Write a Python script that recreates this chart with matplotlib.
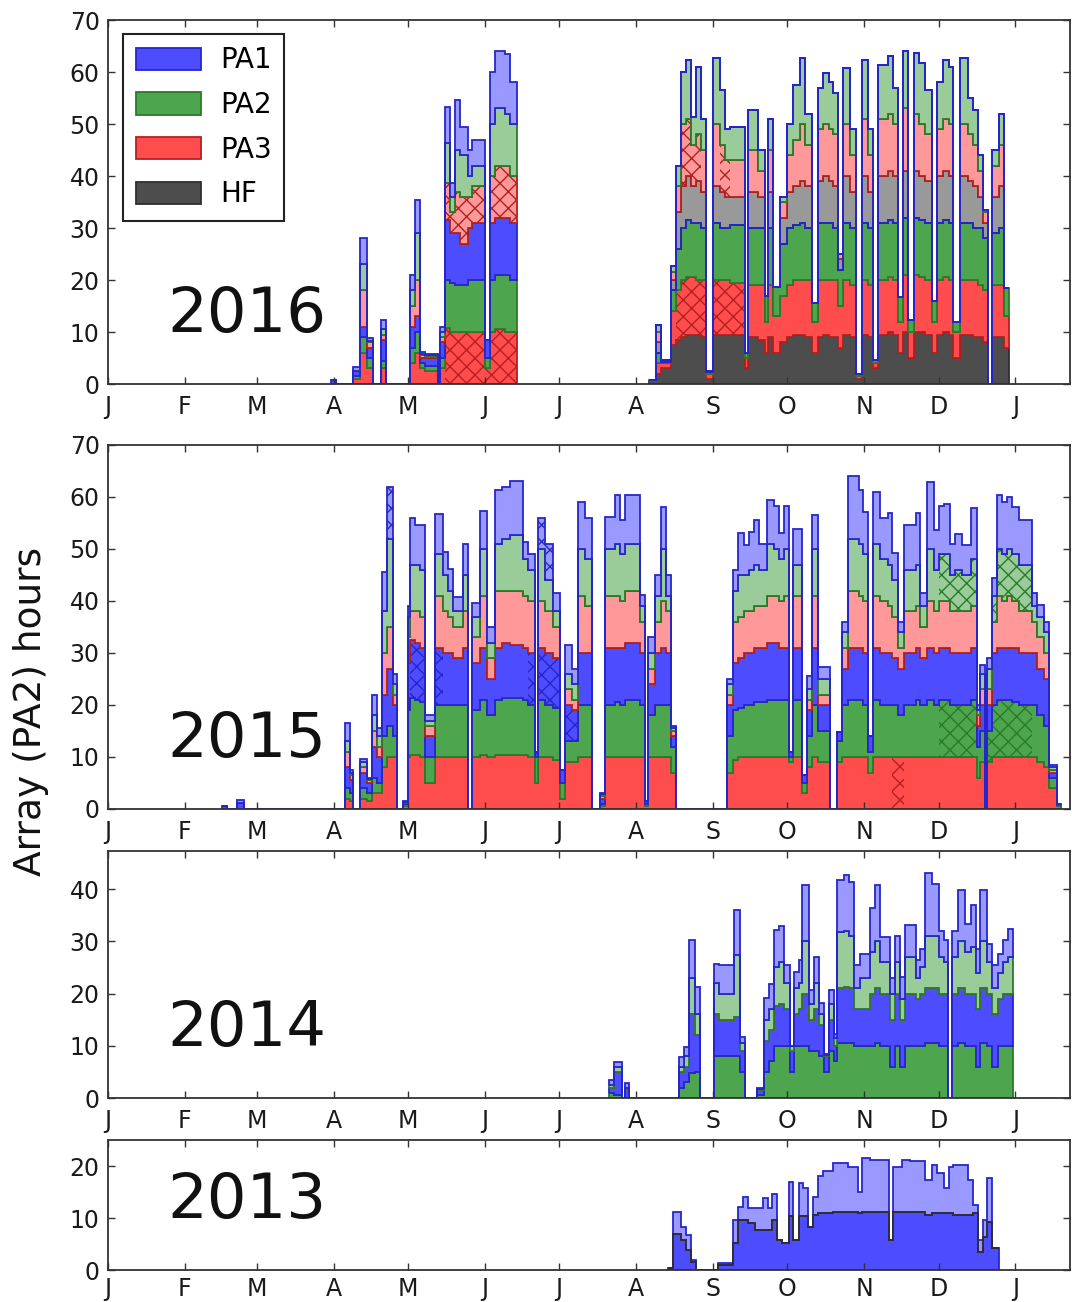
#!/usr/bin/env python3
"""Daily array observing hours, stacked per array, one panel per season (2013-2016)."""
import numpy as np
import matplotlib
matplotlib.use("Agg")
import matplotlib.pyplot as plt
from matplotlib.patches import Patch

# ------------------------------------------------------------------ style ----
ARRAYS = ["HF", "PA3", "PA2", "PA1"]          # stacking order, bottom first
FILL_N = {"HF": "#4d4d4d", "PA3": "#ff4d4d", "PA2": "#4da64d", "PA1": "#4d4dff"}
FILL_D = {"HF": "#999999", "PA3": "#ff9999", "PA2": "#99cc99", "PA1": "#9999ff"}
EDGE = {"HF": "#2e2e2e", "PA3": "#b32020", "PA2": "#2a7a2a", "PA1": "#2626c8"}

MONTH_STARTS = [0, 31, 60, 91, 121, 152, 182, 213, 244, 274, 305, 335, 366]
MONTH_LABELS = ["J", "F", "M", "A", "M", "J", "J", "A", "S", "O", "N", "D", "J"]

# ------------------------------------------------------------------- data ----
# Stack tops (hours), per bin of day-of-year.
# Suffix n = lower (solid) stack, d = upper (light) stack.

# 2016, April-June (no HF yet)
EDGES_2016A = [90, 92, 99, 101.7, 104.5, 107, 110, 112, 122, 124, 126, 128, 133,
               134, 136, 138, 140, 142, 145, 147, 152, 154, 156, 160, 162, 165]
PA3N_2016A = [0, 0, 1, 6, 3, 0, 3, 0, 4, 6, 3, 2.5, 0, 3, 10.7, 10, 10, 10, 10,
              10, 3, 10, 10.5, 10, 10]
PA2N_2016A = [0, 0, 1.5, 9, 5, 0, 4.5, 0, 7, 10, 4, 3.5, 0, 5, 20, 19.5, 19, 19,
              20, 20, 5, 20, 21, 21, 20]
PA1N_2016A = [0.7, 0, 2.5, 11, 7, 0, 8.5, 0, 11, 13, 5, 5, 0, 8, 31.5, 29, 29,
              27, 30, 31, 8.5, 31, 32, 32, 31]
PA3D_2016A = [0.7, 0, 2.5, 18, 8, 0, 9.5, 0, 15, 20, 5.5, 5.3, 0, 9, 38.6, 33,
              37, 36, 36, 38, 8.5, 40, 42, 42, 40]
PA2D_2016A = [0.7, 0, 2.5, 23, 8.3, 0, 10.5, 0, 18, 29, 5.8, 5.5, 0, 10, 46.3,
              36, 45, 44, 40, 42, 8.5, 50, 53, 52, 50]
PA1D_2016A = [0.7, 0, 3.3, 28, 8.8, 0, 12.3, 0, 21, 35.4, 6.2, 5.8, 0, 11, 53.3,
              38.6, 54.6, 49.5, 45, 47, 8.5, 60, 64, 63.5, 58]

# 2016, August-December (no PA1)
EDGES_2016B = [218, 221, 223, 227, 229, 231, 233, 235, 237, 239, 241, 244, 247,
               249, 251, 257, 258.3, 262.3, 265.1, 266.3, 268.4, 271.2, 274,
               276.4, 279.3, 281.3, 284.1, 286.5, 288.5, 290.6, 292.6, 294.6,
               296.6, 299.4, 301.5, 304.3, 306.7, 308.7, 310.7, 314.4, 316.8,
               318.8, 320.8, 322.8, 324.9, 326.9, 329.7, 332.5, 334.5, 336.6,
               339, 341, 343.8, 346.7, 348.7, 350.7, 353.1, 355.1, 356.7,
               359.2, 361.2, 363.2]
HFN_2016B = [0.5, 2, 3, 7.5, 8.5, 9, 9.5, 9.5, 9.5, 9, 1, 9.5, 9.5, 9.5, 9.5, 3,
             9, 8.5, 6, 9, 6, 8, 9, 9.5, 9.5, 9, 6, 9, 9.5, 9, 9, 7, 9.5, 9, 1,
             9.5, 9, 3, 9.5, 10, 9.5, 6, 10, 5, 10, 10, 9.5, 6, 9.5, 10, 9.5, 5,
             9.5, 9.5, 9, 9, 8, 0, 9, 9, 7]
PA3N_2016B = [0.6, 4, 4, 14, 18, 20, 20.5, 20.5, 20, 20, 2, 20, 20, 20, 19.5, 5,
              19, 19, 12, 19, 13, 17, 19, 20, 20, 20, 12, 20, 20, 20, 20, 15, 20,
              19, 1.5, 20, 19, 4, 20, 20.5, 20, 12, 21, 10, 21, 20.5, 20, 12, 20,
              20.5, 20, 10, 20, 20, 20, 19, 18, 0, 19, 19, 13]
PA2N_2016B = [0.7, 6, 4.3, 18, 26, 30, 31.5, 31, 31, 30, 2.3, 31, 30, 30, 30.5,
              6, 30, 30, 17, 30, 18.7, 27, 30, 30.5, 31, 30, 15.6, 31, 31, 31,
              30, 22, 31, 30, 2, 31, 30, 4.6, 31, 31.5, 31, 16.7, 32, 12.3, 32,
              31.5, 31, 16, 31, 31.5, 31, 12, 31, 31, 30, 30, 28, 0, 29, 30, 18.5]
HFD_2016B = [0.7, 8, 4.4, 20, 33, 38, 40, 38, 39, 37, 2.4, 38, 37, 36, 36, 6, 37,
             36, 17, 37, 18.7, 32, 37, 38, 39, 38, 15.6, 39, 40, 39, 38, 24, 40,
             37, 2, 40, 37, 4.6, 40, 41, 40, 16.7, 41, 12.3, 41, 40, 39, 16, 40,
             41, 40, 12, 40, 39, 38, 36, 31, 0, 36, 38, 18.5]
PA3D_2016B = [0.7, 10, 4.5, 21.5, 38, 50, 51, 46, 48, 45, 2.5, 50, 46, 43, 43, 6,
              45, 41, 17, 45, 18.7, 35, 44, 47, 50, 46, 15.6, 49, 50, 49, 48, 25,
              50, 44, 2, 51, 44, 4.6, 51, 52, 50, 16.7, 53, 12.3, 52, 50, 48, 16,
              49, 51, 50, 12, 50, 48, 46, 41, 33, 0, 42, 46, 18.5]
PA2D_2016B = [0.8, 11.3, 4.6, 22.6, 42, 60, 62.3, 51.4, 61, 51, 2.5, 62.6, 56.5,
              49, 49.5, 6, 52.7, 45, 17, 51, 18.7, 36, 50, 57.5, 62.7, 52, 15.6,
              57, 59.8, 58, 56, 25, 60.8, 49, 2, 62.3, 49, 4.6, 61.3, 63, 57,
              16.7, 64, 12.3, 63.6, 61.7, 56.5, 16, 58, 62.3, 61, 12, 62.7, 55,
              52.7, 44, 33.5, 0, 45, 52, 18.5]

# 2015 (no HF)
EDGES_2015 = [46, 48, 52, 55, 95.5, 97.5, 99, 101.7, 104.5, 106.5, 108.5, 110.6,
              112.6, 115, 116.6, 119, 121, 122, 124, 126, 128, 132, 135, 137,
              139, 143, 145, 147, 150, 153, 156, 159, 162, 167.5, 169.5, 172.3,
              173.5, 176.4, 179.6, 182.4, 184.4, 187.2, 189.7, 192.5, 195.3,
              198.5, 200.6, 204.6, 206.6, 208.6, 214.7, 216.7, 217.9, 220.7,
              223, 225, 227, 229, 249.8, 252.2, 254.2, 256.4, 258.4, 260.4,
              262.4, 265.8, 268.5, 270.5, 272.5, 274.5, 276.4, 280, 282, 284,
              286.5, 291.3, 294.2, 296.2, 298.6, 302.7, 304.7, 306.7, 308.7,
              311.5, 314.4, 316.4, 318.8, 320.9, 325.7, 327.7, 330.4, 333.1,
              335.1, 337.1, 339.8, 341.8, 344.5, 347.9, 350.6, 351.9, 353.9,
              354.6, 356.6, 358.6, 360.6, 362.6, 364.7, 367.4, 372.8, 374.8,
              377.5, 379.5, 382.8, 384.2]
PA3N_2015 = [0, 0, 0, 0, 2, 1.5, 0, 2, 1.5, 3,
             3, 8, 10, 10, 0, 0.5, 10, 10.4, 10.4, 10,
             5, 10, 10, 10, 10, 10, 0, 10, 10.4, 10,
             10.4, 10.4, 10.4, 10.4, 10, 5, 10, 10, 9.5, 2,
             9, 9, 10, 10, 0, 0.5, 10, 10, 10, 10,
             10, 0.5, 10, 10, 10, 10, 7, 0, 7, 9.5,
             10, 10, 10, 10, 10, 10, 10, 10, 10, 9,
             10, 3, 8, 10, 9, 0, 9, 10, 10, 10,
             10, 7, 10, 10, 10, 10, 10, 10, 10, 10,
             10, 10, 10, 10, 10, 10, 10, 10, 6, 9,
             0, 9, 10, 10, 10, 10, 10, 10, 10, 9,
             8, 4, 0.5]
PA2N_2015 = [0, 0, 0, 0, 4, 3, 0, 4, 3, 6,
             5, 14, 16, 14, 0, 1, 19, 21.3, 21, 20.5,
             10, 20, 20, 20, 20, 20, 0, 19, 21, 18,
             21, 21.3, 21.3, 21, 20, 10, 21, 20, 19.5, 5,
             13, 13, 20, 20, 0, 1, 20, 20.5, 20, 21,
             20, 1, 18, 20, 20, 20, 12, 0, 14, 19,
             19.5, 20, 20, 20.5, 20.5, 21, 21, 21, 21, 10,
             21, 5, 14, 20, 15, 0, 13, 20, 21, 21,
             20, 11, 21, 20, 20, 20, 18, 20, 21, 20,
             21, 20, 21, 21, 20, 20, 20, 21, 12, 15,
             0, 15, 20, 21, 21, 21, 20.5, 20, 20, 18,
             16, 6, 0.7]
PA1N_2015 = [0.5, 0, 1.2, 0, 8, 5.5, 0, 7, 5, 12,
             10, 22, 27, 20, 0, 1.2, 28, 32.5, 32, 31,
             14, 31, 30, 30, 29, 31, 0, 28, 31, 25,
             31, 32, 31.5, 31, 30, 11, 31, 30, 29, 7.5,
             20, 19, 30, 30, 0, 2, 31, 31, 31, 32,
             30, 1.5, 24, 30, 31, 30, 14, 0, 20, 28,
             29, 30, 30, 31, 31, 32, 32, 31, 31, 11,
             31, 6.5, 19, 31, 20, 0, 14.9, 27, 31, 31,
             30, 14, 31, 30, 30, 29, 27, 30, 31, 29,
             31, 30, 31, 31, 30, 30, 30, 31, 16, 20,
             0, 20, 30, 31, 31, 31, 31, 30, 30, 27,
             25, 7, 0.8]
PA3D_2015 = [0.5, 0, 1.2, 0, 11, 6.5, 0, 8, 5.5, 15,
             12, 30, 35, 22, 0, 1.3, 33, 38, 38, 37,
             16, 41, 38, 37, 35, 38, 0, 33, 41, 29,
             42, 42, 42, 41, 40, 11, 40, 38, 35, 7.5,
             23, 21, 41, 39, 0, 2.5, 41, 41, 40, 42,
             36, 1.5, 27, 36, 40, 38, 15, 0, 22, 36,
             37, 38, 38, 39, 39, 41, 41, 40, 41, 11,
             41, 6.5, 21, 41, 22, 0, 14.9, 31, 42, 41,
             40, 14, 41, 40, 39, 37, 31, 38, 39, 35,
             40, 38, 40, 40, 38, 38, 38, 39, 18, 23,
             0, 23, 36, 41, 40, 41, 40, 38, 36, 33,
             30, 7.5, 0.9]
PA2D_2015 = [0.5, 0, 1.2, 0, 13, 7, 0, 9, 5.7, 18,
             14, 38, 52, 24, 0, 1.4, 37, 47, 47, 46,
             17, 49, 45, 42, 38, 45, 0, 37, 50, 32,
             51, 52, 52.7, 48, 46, 11, 50, 44, 38, 7.5,
             26, 24, 50, 48, 0, 2.8, 50, 51, 49, 51,
             39, 1.5, 30, 41, 50, 41, 15.5, 0, 24, 42,
             45, 45, 46, 47, 46, 51, 50, 48, 50, 11,
             47, 6.5, 23, 50, 25, 0, 14.9, 34, 52, 51,
             49, 14, 51, 48, 47, 44, 34, 46, 47, 39,
             50, 46, 49, 49, 45, 46, 45, 48, 19, 26,
             0, 27, 41, 50, 49, 50, 49, 47, 39, 37,
             34, 8, 1]
PA1D_2015 = [0.5, 0, 1.8, 0, 16.5, 7.5, 0, 9.7, 5.9, 21.9,
             15.5, 45.6, 62, 26, 0, 1.5, 39, 56, 54.6, 54.6,
             18, 56.7, 49.4, 46.2, 40.7, 51, 0, 39.6, 57.3, 35,
             61.3, 62, 63, 51.4, 49, 11, 55.9, 51, 41.5, 7.5,
             31.5, 27, 59, 56, 0, 3, 56.2, 60.4, 55.5, 60.4,
             41.2, 1.5, 33, 45, 58, 45, 16, 0, 25, 46,
             53, 50.7, 53.3, 55.5, 51, 59.5, 58.3, 53, 58.3, 11,
             53.8, 6.5, 25.6, 56.5, 27.4, 0, 14.9, 36, 64, 61.3,
             57.2, 14, 60.9, 55.9, 57, 49.2, 36, 54.6, 57, 41.5,
             62.8, 53.6, 58.3, 58.6, 50.9, 52.8, 50.7, 57.9, 20, 27.7,
             0, 29, 44.4, 60.4, 59, 60, 58, 55.5, 41.5, 39.2,
             36, 8.5, 1]

# 2014 (PA2 and PA1 only)
EDGES_2014 = [201.9, 203.9, 207.4, 208.6, 210, 230.2, 232.2, 234.2, 236.9,
              238.9, 244.3, 246.3, 252.3, 255, 257, 261.8, 264.4, 266.5, 268.5,
              270.5, 272.5, 275.2, 276.6, 278.6, 280, 282.7, 284.7, 286.8,
              288.8, 290.8, 292.8, 294.2, 297, 299, 300.8, 303.5, 307.5, 309.5,
              311.5, 315.5, 317.6, 319.6, 321.6, 325.7, 327.7, 329.7, 332.5,
              335, 337, 338.6, 340.6, 343, 345.8, 347.9, 349.9, 351.9, 354.7,
              356.7, 358.8, 360.8, 362.8, 365.2]
PA2N_2014 = [1, 0.5, 0, 0, 0, 2, 3, 4.8, 5, 0,
             8, 8, 8, 5, 0, 0.5, 5, 7, 10, 10,
             10, 5, 10, 10, 10, 9, 9, 8, 5, 9,
             7, 10.5, 10.5, 10.5, 10, 10, 10, 10.5, 10, 6,
             10, 6, 10, 10, 10, 10.5, 10.5, 10, 10, 0,
             10, 10.5, 10, 10, 6, 10.5, 10, 6, 10, 10,
             10]
PA1N_2014 = [2, 5, 0, 1.5, 0, 5, 6, 16, 12, 0,
             16, 15, 15.6, 9, 0, 1.5, 11, 13, 17.6, 18,
             17, 9, 16, 17, 20, 15, 17, 14, 8, 15,
             10, 21, 21.3, 21, 17, 17, 20, 21, 20, 15,
             20, 15, 20, 19, 20, 21, 21, 20, 20, 0,
             20, 21, 20, 20, 17, 21, 20, 16, 19, 20,
             20]
PA2D_2014 = [2.5, 6, 0, 2, 0, 6, 8, 23, 16, 0,
             22, 20, 27.3, 10.5, 0, 1.8, 15, 17, 25, 26,
             22, 10, 21, 22, 30, 18, 22, 16, 8.3, 18,
             11.5, 31.8, 32, 31, 21, 23, 28, 30, 26, 20,
             26, 19, 27, 23, 25, 31, 31, 27, 26, 0,
             27, 30, 28, 29, 24, 30, 26, 21, 24, 26,
             27]
PA1D_2014 = [3.4, 6.9, 0, 2.8, 0, 7.9, 9.8, 30.2, 21.3, 0,
             25.7, 25.4, 36, 11.6, 0, 2, 19.2, 21.8, 32.1, 33,
             25.4, 10, 24.2, 26.4, 40.8, 20.6, 27, 18.1, 8.5, 20.6,
             12.3, 41.7, 42.7, 41.4, 25.4, 27.5, 36.3, 40.8, 30.9, 23,
             31, 23.2, 33.2, 26.4, 28.6, 43, 41, 32, 30.2, 0,
             32, 39.9, 33.4, 36.9, 28.6, 39.9, 29.5, 25.4, 27.6, 30.2,
             32.4]

# 2013 (PA1 only)
EDGES_2013 = [226, 228, 231, 233, 235, 237, 246, 252, 254, 256, 258, 261, 264,
              266, 268, 270, 272, 274.5, 276.4, 278.5, 280.5, 282.5, 284.5,
              286.5, 288.5, 292.6, 298.6, 302.3, 304.3, 307.5, 314.8, 316.8,
              320.4, 323.6, 329.7, 332.5, 334.5, 337, 339, 341, 347, 349, 351,
              353, 354.5, 356.5, 359.2]
PA1N_2013 = [0.3, 7, 5.8, 3.8, 1.6, 0, 1, 5.2, 9.6, 9.6, 9, 7.7, 7.7, 7.7, 9.6,
             5.8, 5.2, 10.3, 5.8, 10.3, 10.3, 8.3, 10.6, 10.9, 11, 11.2, 11.2,
             11, 11.2, 11.2, 5.8, 11.2, 11.2, 11.2, 10.5, 11, 11, 11, 11, 10.6,
             10.6, 11, 3.5, 6.3, 9.3, 4.2]
PA1D_2013 = [0.3, 11.2, 8.3, 6.7, 1.9, 0, 1.3, 9.6, 12.2, 14.1, 11.9, 11.9, 13.8,
             11.9, 14.7, 5.8, 5.2, 17, 5.8, 16.7, 15.7, 8.3, 14.1, 18, 19, 20.6,
             19.9, 15, 21.5, 21.2, 5.8, 19.9, 21.2, 20.9, 17.3, 20.2, 18.6, 15.7,
             19.9, 20.2, 17.3, 12.5, 5.8, 9.6, 17.6, 4.2]

# hatched (flagged) stretches: (layer, first day, last day)
HATCH_2016 = [("PA3n", 136, 165), ("PA3d", 136, 165), ("PA3n", 229, 241),
              ("PA3n", 244, 257), ("PA3d", 231, 239), ("PA3d", 247, 253)]
HATCH_2015 = [("PA1d", 112.6, 115), ("PA1n", 122, 128), ("PA1n", 132, 135),
              ("PA1n", 169.5, 182.4), ("PA1d", 173.5, 179.6), ("PA1n", 184.4, 189.7),
              ("PA3n", 316.4, 320.9), ("PA2n", 335.1, 350.6), ("PA2n", 354.6, 372.8),
              ("PA2d", 335.1, 350.6), ("PA2d", 356.6, 372.8)]


def draw_stack(ax, edges, levels, hatched=(), outline_last=()):
    edges = np.asarray(edges, float)
    mids = 0.5 * (edges[:-1] + edges[1:])
    base = np.zeros(len(edges) - 1)
    tops = {}
    for part, fills in (("n", FILL_N), ("d", FILL_D)):
        for name in ARRAYS:
            key = name + part
            top = np.asarray(levels.get(key, base), float)
            tops[key] = (name, top)
            ax.stairs(top, edges, baseline=base, fill=True, facecolor=fills[name],
                      edgecolor=EDGE[name], lw=1.3)
            for hkey, lo, hi in hatched:
                if hkey == key:
                    m = (mids > lo) & (mids < hi)
                    ax.stairs(np.where(m, top, base), edges, baseline=base, fill=True,
                              facecolor="none", edgecolor=EDGE[name], lw=0, hatch="xx")
            base = top
    # a few boundary lines sit on top in the original rendering
    for key in outline_last:
        name, top = tops[key]
        ax.stairs(top, edges, baseline=None, fill=False, color=EDGE[name], lw=1.3)


def style(ax, ymax, yticks, year, xpad=8):
    ax.set_xlim(0, 388)
    ax.set_ylim(0, ymax)
    ax.set_xticks(MONTH_STARTS)
    ax.set_xticklabels(MONTH_LABELS)
    ax.set_yticks(yticks)
    ax.tick_params(direction="in", top=True, right=True, length=5, width=1,
                   labelsize=17, color="#333333", labelcolor="#1a1a1a")
    ax.tick_params(axis="x", pad=xpad)
    ax.tick_params(axis="y", pad=6)
    for sp in ax.spines.values():
        sp.set_linewidth(1.3)
        sp.set_color("#333333")
    ax.text(24, 10, year, fontsize=45, ha="left", va="baseline", color="#111111")


def build():
    fig = plt.figure(figsize=(10.72, 13.02), dpi=100)
    left, width = 108 / 1072, 962 / 1072
    H = 1302.0

    def axes_at(top_px, bottom_px):
        return fig.add_axes([left, 1 - bottom_px / H, width, (bottom_px - top_px) / H])

    ax16 = axes_at(20, 384)
    ax15 = axes_at(445, 809)
    ax14 = axes_at(851, 1098)
    ax13 = axes_at(1140, 1270)

    draw_stack(ax16, EDGES_2016A,
               {"PA3n": PA3N_2016A, "PA2n": PA2N_2016A, "PA1n": PA1N_2016A,
                "PA3d": PA3D_2016A, "PA2d": PA2D_2016A, "PA1d": PA1D_2016A},
               HATCH_2016)
    draw_stack(ax16, EDGES_2016B,
               {"HFn": HFN_2016B, "PA3n": PA3N_2016B, "PA2n": PA2N_2016B,
                "HFd": HFD_2016B, "PA3d": PA3D_2016B, "PA2d": PA2D_2016B},
               HATCH_2016, outline_last=("PA1n",))
    draw_stack(ax15, EDGES_2015,
               {"PA3n": PA3N_2015, "PA2n": PA2N_2015, "PA1n": PA1N_2015,
                "PA3d": PA3D_2015, "PA2d": PA2D_2015, "PA1d": PA1D_2015},
               HATCH_2015)
    draw_stack(ax14, EDGES_2014,
               {"PA2n": PA2N_2014, "PA1n": PA1N_2014,
                "PA2d": PA2D_2014, "PA1d": PA1D_2014})
    draw_stack(ax13, EDGES_2013, {"PA1n": PA1N_2013, "PA1d": PA1D_2013},
               outline_last=("HFd",))

    style(ax16, 70, range(0, 71, 10), "2016")
    style(ax15, 70, range(0, 71, 10), "2015")
    style(ax14, 47.3, range(0, 41, 10), "2014")
    style(ax13, 25, range(0, 21, 10), "2013", xpad=5)

    handles = [Patch(facecolor=FILL_N[n], edgecolor=EDGE[n], lw=1.3, label=n)
               for n in ["PA1", "PA2", "PA3", "HF"]]
    leg = ax16.legend(handles=handles, loc="upper left",
                      bbox_to_anchor=((123 - 108) / 962, (384 - 34) / 364),
                      borderaxespad=0, fontsize=20, handlelength=2.35,
                      handleheight=0.85, handletextpad=0.7, labelspacing=0.6,
                      borderpad=0.45, fancybox=False, framealpha=1)
    leg.get_frame().set_edgecolor("#222222")
    leg.get_frame().set_linewidth(1.5)

    fig.text(31 / 1072, 1 - 711 / H, "Array (PA2) hours", rotation=90,
             fontsize=27, ha="center", va="center", color="#111111")
    return fig


def main():
    fig = build()
    fig.savefig("out.png", dpi=100, facecolor="white")
    plt.close(fig)


if __name__ == "__main__":
    main()
